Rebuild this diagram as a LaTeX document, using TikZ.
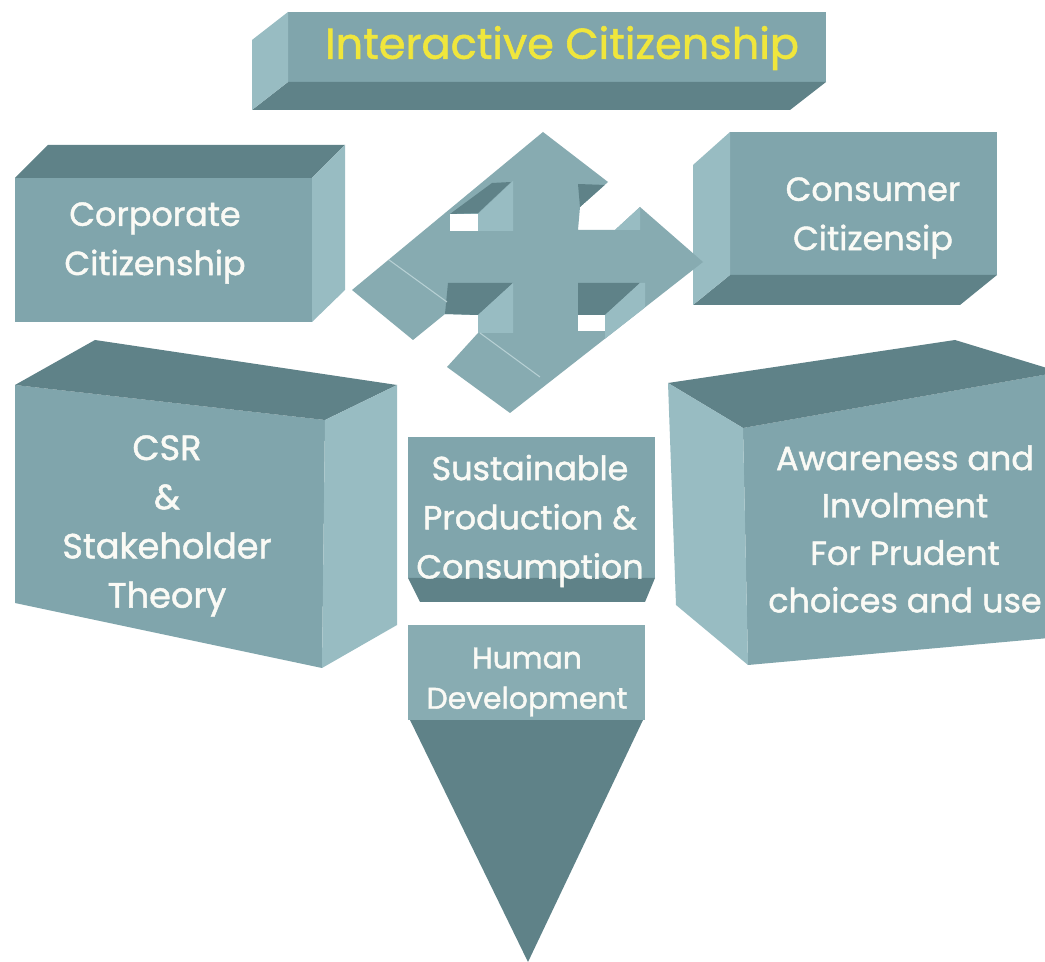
\documentclass[tikz,border=0pt]{standalone}
\usepackage{fontspec}
\setmainfont{Poppins}[FakeBold=1.3]
\definecolor{fm}{HTML}{80A5AC}
\definecolor{fd}{HTML}{5F8288}
\definecolor{fl}{HTML}{98BCC2}
\definecolor{fc}{HTML}{87ABB1}
\definecolor{fh}{HTML}{88ACB2}
\definecolor{ttl}{HTML}{F0E63C}
\definecolor{txt}{HTML}{FAFAF5}
\begin{document}
\begin{tikzpicture}[x=0.02cm,y=-0.02cm,
  mid/.style={fill=fm},
  dark/.style={fill=fd},
  lite/.style={fill=fl},
  crs/.style={fill=fc},
  lbl/.style={text=txt, align=center, inner sep=0pt},
  crease/.style={draw=fl!70!white, line width=0.6pt}]
\useasboundingbox[fill=white] (0,0) rectangle (1045,962);

% ---- Interactive Citizenship (top bar)
\fill[mid]  (288,12) rectangle (826,82);
\fill[dark] (288,82) -- (826,82) -- (790,110) -- (252,110) -- cycle;
\fill[lite] (288,12) -- (288,82) -- (252,110) -- (252,40) -- cycle;
\node[lbl, text=ttl, font={\fontsize{24.5}{28}\selectfont}] (title) at (562,48) {Interactive Citizenship};

% ---- Corporate Citizenship
\fill[mid]  (15,178) rectangle (312,322);
\fill[dark] (15,178) -- (48,145) -- (345,145) -- (312,178) -- cycle;
\fill[lite] (312,178) -- (345,145) -- (345,290) -- (312,322) -- cycle;
\node[lbl, font={\fontsize{19}{28}\selectfont}] (corp) at (155,243) {Corporate\\Citizenship};

% ---- Consumer Citizenship
\fill[mid]  (730,132) rectangle (997,275);
\fill[dark] (730,275) -- (997,275) -- (960,305) -- (693,305) -- cycle;
\fill[lite] (730,132) -- (693,165) -- (693,305) -- (730,275) -- cycle;
\node[lbl, font={\fontsize{19}{28}\selectfont}] (cons) at (873,218) {Consumer\\Citizensip};

% ---- four-way arrow
\def\crosspath{(543,132) -- (608,182) -- (580,207) -- (578,230) -- (615,230) -- (640,207)
  -- (703,262) -- (510,413) -- (447,367) -- (478,333) -- (478,315) -- (445,314)
  -- (413,340) -- (352,290) -- cycle}
\fill[crs] \crosspath;
\begin{scope}
  \clip \crosspath;
  % top-left notch
  \fill[dark] (450,214) -- (492,183) -- (511,182) -- (478,213) -- cycle;
  \fill[lite] (478,214) -- (513,181) -- (513,231) -- (478,231) -- cycle;
  \fill[white] (450,214) rectangle (478,231);
  % top-right notch
  \fill[dark] (578,184) -- (606,185) -- (580,207) -- cycle;
  \fill[lite] (615,230) -- (640,207) -- (640,230) -- cycle;
  % lower-left notch
  \fill[dark] (448,283) -- (513,283) -- (478,315) -- (445,314) -- cycle;
  \fill[lite] (478,315) -- (513,283) -- (513,333) -- (478,333) -- cycle;
  % lower-right notch
  \fill[dark] (578,283) -- (640,283) -- (605,315) -- (578,315) -- cycle;
  \fill[lite] (605,315) -- (640,283) -- (645,283) -- (645,340) -- (605,340) -- cycle;
  \fill[white] (578,315) rectangle (605,331);
  % creases
  \draw[crease] (385,257) -- (447,302);
  \draw[crease] (480,333) -- (540,377);
\end{scope}

% ---- CSR & Stakeholder Theory
\fill[mid]  (15,385) -- (325,420) -- (322,668) -- (15,603) -- cycle;
\fill[dark] (15,385) -- (95,340) -- (397,385) -- (325,420) -- cycle;
\fill[lite] (325,420) -- (397,385) -- (397,625) -- (322,668) -- cycle;
\node[lbl, font={\fontsize{20}{28}\selectfont}] (csr) at (167,526) {CSR\\\&\\Stakeholder\\Theory};

% ---- Awareness box
\fill[mid]  (743,428) -- (1060,372) -- (1060,637) -- (748,665) -- cycle;
\fill[dark] (668,383) -- (955,340) -- (1060,372) -- (743,428) -- cycle;
\fill[lite] (668,383) -- (743,428) -- (748,665) -- (676,605) -- cycle;
\node[lbl, font={\fontsize{19}{27}\selectfont}] (aware) at (905,529) {Awareness and\\Involment\\For Prudent\\choices and use};

% ---- Sustainable Production & Consumption
\fill[mid]  (408,437) rectangle (655,578);
\fill[dark] (408,578) -- (655,578) -- (645,602) -- (420,602) -- cycle;
\node[lbl, font={\fontsize{19}{28}\selectfont}] (sust) at (530,521) {Sustainable\\Production \&\\Consumption};

% ---- Human Development
\fill[fh]  (408,625) rectangle (645,720);
\fill[dark] (410,720) -- (643,720) -- (528,962) -- cycle;
\node[lbl, font={\fontsize{17}{23}\selectfont}] (human) at (527,682) {Human\\Development};
\end{tikzpicture}
\end{document}
